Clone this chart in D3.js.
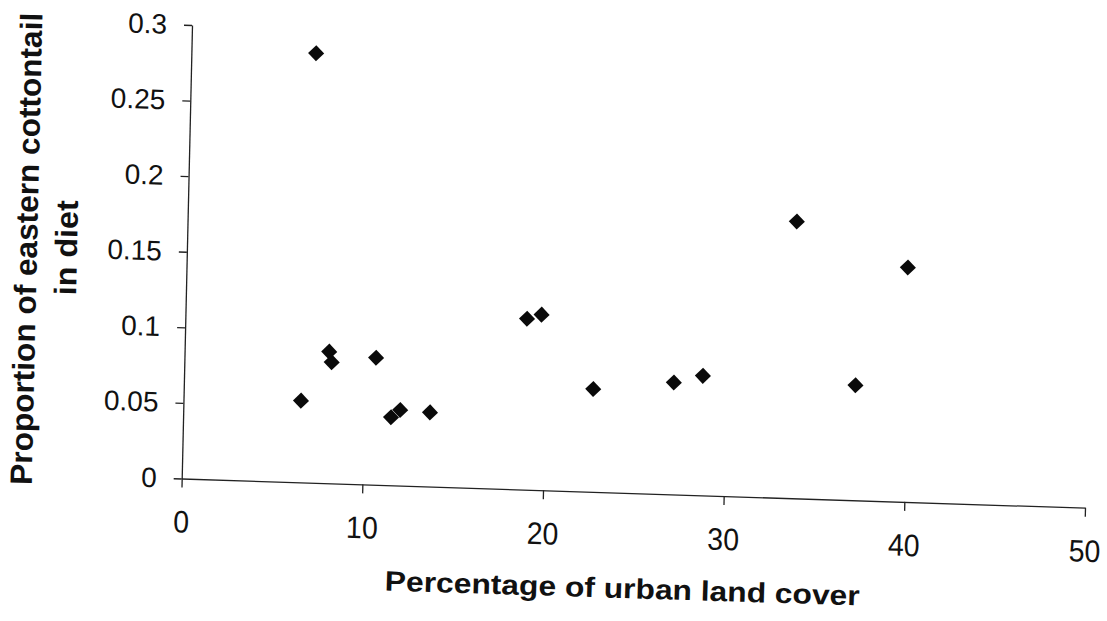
<!DOCTYPE html>
<html>
<head>
<meta charset="utf-8">
<script src="https://cdn.jsdelivr.net/npm/d3@7"></script>
<style>
  html, body { margin: 0; padding: 0; background: #fff; }
  svg { display: block; font-family: "Liberation Sans", Arial, sans-serif; }
  .axis path, .axis line { stroke: #222; stroke-width: 1.3; }
  .axis text { fill: #111; font-size: 28px; }
  .title { fill: #111; font-weight: bold; }
</style>
</head>
<body>
<svg id="chart" width="1107" height="621"></svg>
<script>
// Urban land cover (%) against the share of eastern cottontail in the diet
const urbanCover = [6.9, 6.5, 8.0, 8.15, 10.6, 11.5, 12.0, 13.65, 18.9, 19.7, 22.65, 27.1, 28.7, 33.7, 37.15, 39.9];
const cottontailShare = [0.284, 0.054, 0.087, 0.080, 0.084, 0.045, 0.050, 0.049, 0.113, 0.116, 0.068, 0.074, 0.079, 0.183, 0.076, 0.155];

const xTicks = [0, 10, 20, 30, 40, 50];
const yTicks = [0, 0.05, 0.1, 0.15, 0.2, 0.25, 0.3];
const yTickLabels = ["0", "0.05", "0.1", "0.15", "0.2", "0.25", "0.3"];

const xTitle = "Percentage of urban land cover";
const yTitleLines = ["Proportion of eastern cottontail", "in diet"];

const svg = d3.select("#chart");
svg.append("rect").attr("width", 1107).attr("height", 621).attr("fill", "#fff");

// Plot frame: local coordinates with the origin at the axes' corner.
const plotW = 903.3, plotH = 453.5;
const x = d3.scaleLinear().domain([0, 50]).range([0, plotW]);
const y = d3.scaleLinear().domain([0, 0.3]).range([0, -plotH]);

// The printed figure sits slightly sheared on the page.
const plot = svg.append("g")
  .attr("transform", "matrix(1, 0.03233, -0.02275, 1, 181.7, 478.5)");

plot.append("g")
  .attr("class", "axis")
  .call(d3.axisBottom(x).tickValues(xTicks).tickSize(9).tickPadding(23).tickSizeOuter(0))
  .call(g => g.selectAll("text")
    .attr("dy", "0.71em")
    .style("font-size", "31px")
    .attr("transform", "scale(0.92,1)"));

plot.append("g")
  .attr("class", "axis")
  .call(d3.axisLeft(y).tickValues(yTicks).tickSize(8).tickPadding(17).tickSizeOuter(0)
    .tickFormat((d, i) => yTickLabels[i]));

plot.selectAll(".axis .domain").attr("fill", "none");

const diamond = d3.symbol().type(d3.symbolDiamond2).size(165);
plot.append("g")
  .selectAll("path")
  .data(urbanCover.map((u, i) => [u, cottontailShare[i]]))
  .join("path")
  .attr("d", diamond)
  .attr("transform", d => `translate(${x(d[0])},${y(d[1])})`)
  .attr("fill", "#0a0a0a");

// Axis titles
svg.append("text")
  .attr("class", "title")
  .attr("transform", "translate(622,598) rotate(1.8)")
  .attr("text-anchor", "middle")
  .attr("font-size", 28)
  .attr("textLength", 475)
  .attr("lengthAdjust", "spacingAndGlyphs")
  .text(xTitle);

const yTitle = [
  { text: yTitleLines[0], cx: 37, cy: 249, len: 472 },
  { text: yTitleLines[1], cx: 77, cy: 248, len: 95 }
];
svg.selectAll("text.ytitle")
  .data(yTitle)
  .join("text")
  .attr("class", "title ytitle")
  .attr("transform", d => `translate(${d.cx},${d.cy}) rotate(-88.7)`)
  .attr("text-anchor", "middle")
  .attr("font-size", 31)
  .attr("textLength", d => d.len)
  .attr("lengthAdjust", "spacingAndGlyphs")
  .text(d => d.text);
</script>
</body>
</html>
